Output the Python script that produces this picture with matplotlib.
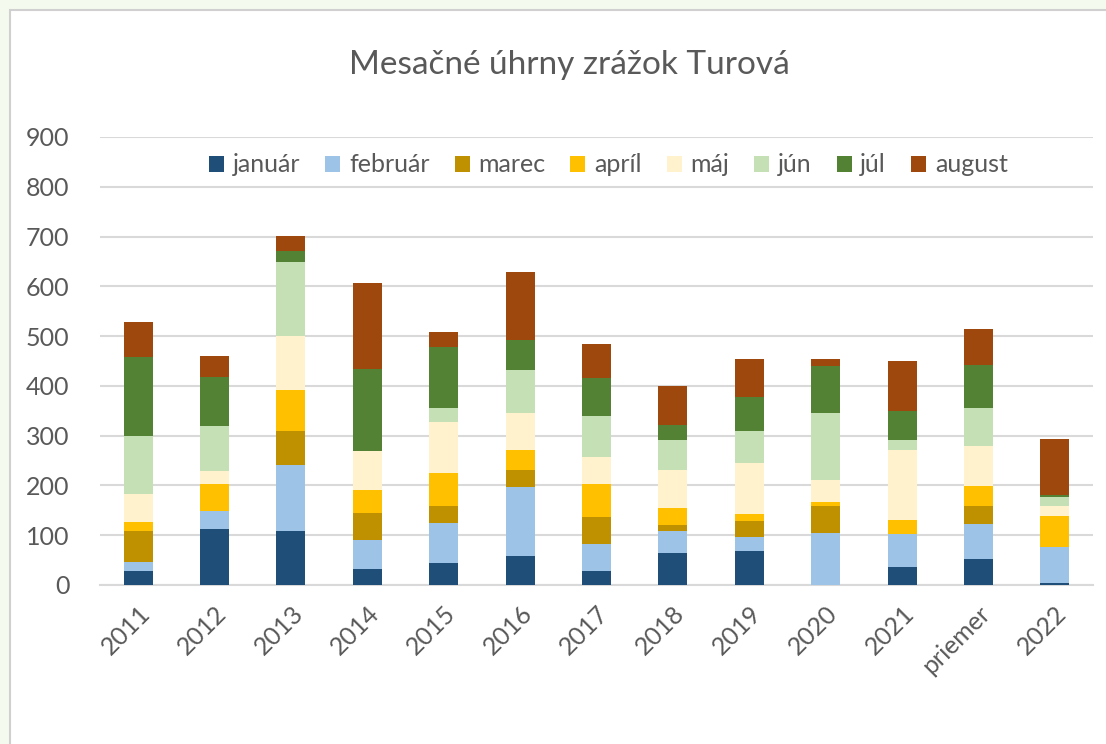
import matplotlib

matplotlib.use("Agg")
import numpy as np
from matplotlib import pyplot as plt
from matplotlib.patches import Rectangle

categories = ["2011", "2012", "2013", "2014", "2015", "2016", "2017",
              "2018", "2019", "2020", "2021", "priemer", "2022"]

januar = [29, 112, 109, 32, 45, 59, 29, 65, 69, 0, 36, 53, 5]
februar = [17, 36, 132, 59, 80, 137, 54, 43, 27, 105, 66, 69, 71]
marec = [63, 0, 68, 53, 34, 36, 53, 13, 33, 53, 0, 37, 0]
april = [17, 54, 82, 47, 67, 40, 66, 34, 13, 8, 28, 40, 63]
maj = [57, 27, 110, 79, 101, 73, 56, 77, 104, 44, 142, 80, 19]
jun = [117, 90, 147, 0, 29, 87, 82, 60, 63, 136, 20, 76, 18]
jul = [158, 99, 22, 164, 123, 60, 76, 30, 69, 93, 57, 87, 5]
august = [70, 42, 32, 172, 30, 136, 69, 77, 77, 16, 100, 73, 113]

series = [
    ("január", januar, "#1F4E79"),
    ("február", februar, "#9DC3E6"),
    ("marec", marec, "#BF9000"),
    ("apríl", april, "#FFC000"),
    ("máj", maj, "#FFF2CC"),
    ("jún", jun, "#C5E0B4"),
    ("júl", jul, "#548235"),
    ("august", august, "#9E480E"),
]

plt.rcParams["font.family"] = ["Lato", "DejaVu Sans"]
text_color = "#595959"

fig = plt.figure(figsize=(11.06, 7.44), dpi=100, facecolor="#F4FBEE")
W, H = 1106, 744

# white chart area with thin grey border (runs off the right/bottom edge)
fig.patches.append(Rectangle((10 / W, -0.1), 1.2, 1.1 - 10 / H, transform=fig.transFigure,
                             facecolor="white", edgecolor="#D0D0D0", linewidth=1.5, zorder=-10))

ax = fig.add_axes([100 / W, 1 - 585 / H, (1093 - 100) / W, (585 - 137) / H])
ax.set_facecolor("none")
ax.set_zorder(1)

x = np.arange(len(categories))
bottom = np.zeros(len(categories))
for label, values, color in series:
    ax.bar(x, values, width=0.38, bottom=bottom, color=color, label=label, zorder=3)
    bottom += np.array(values)

ax.set_ylim(0, 900)
ax.set_xlim(-0.5, len(categories) - 0.5)
ax.set_yticks(range(0, 901, 100))
ax.yaxis.grid(True, color="#D9D9D9", linewidth=1.5, zorder=0)
ax.set_axisbelow(True)
for side in ("top", "right", "left"):
    ax.spines[side].set_visible(False)
ax.spines["bottom"].set_color("#D9D9D9")
ax.spines["bottom"].set_linewidth(1.5)
ax.tick_params(axis="both", length=0, labelsize=18, colors=text_color)
ax.tick_params(axis="y", pad=22)
ax.set_xticks(x)
ax.set_xticklabels(categories, rotation=45, ha="right", rotation_mode="anchor")
ax.tick_params(axis="x", pad=12)

fig.text(569 / W, 1 - 65 / H, "Mesačné úhrny zrážok Turová", ha="center", va="center",
         fontsize=24, color=text_color)

ax.legend(loc="center", bbox_to_anchor=(0.512, 0.9375), ncol=8, frameon=False,
          fontsize=18, labelcolor=text_color, handlelength=0.6, handleheight=0.6,
          handletextpad=0.35, columnspacing=1.0)

fig.savefig("out.png", dpi=100, facecolor=fig.get_facecolor())
